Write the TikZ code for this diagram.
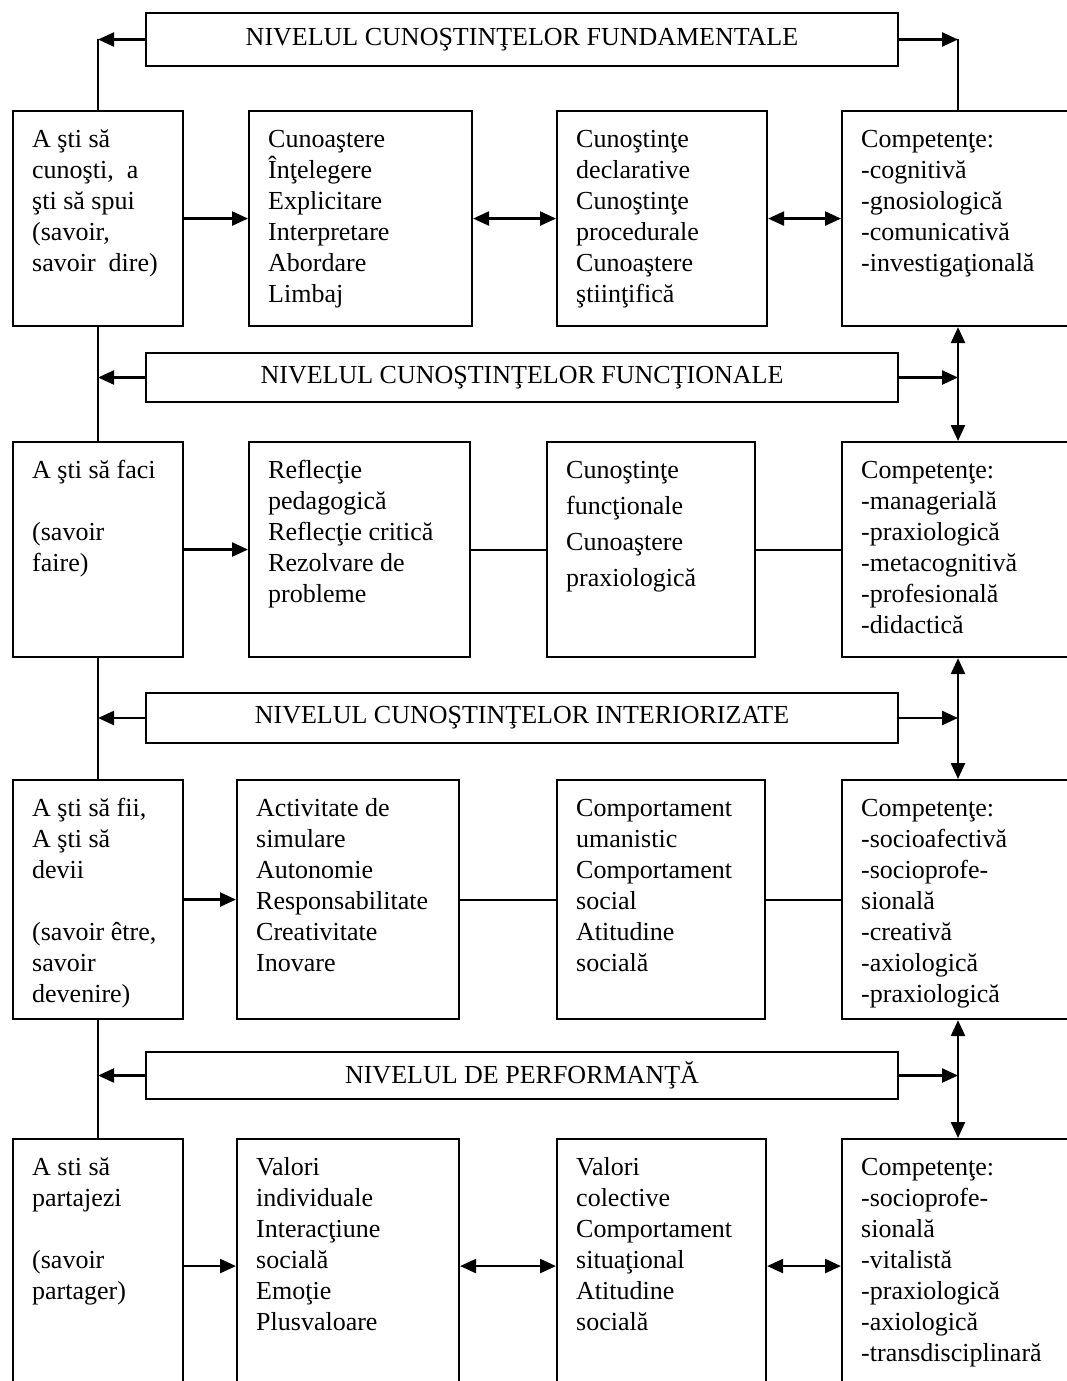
\documentclass[tikz,border=0pt]{standalone}
\usepackage{fontspec}
\setmainfont{Liberation Serif}
\usetikzlibrary{arrows.meta}
\begin{document}
\begin{tikzpicture}[x=1pt,y=-1pt,
  box/.style={draw, line width=2.1pt, inner sep=0pt, anchor=north west},
  banner/.style={draw, line width=2.1pt, minimum width=752pt, inner sep=0pt,
    font=\fontsize{26pt}{31pt}\selectfont},
  txt/.style={anchor=north west, inner sep=0pt, align=left,
    font=\fontsize{26pt}{31pt}\selectfont, xshift=20pt, yshift=-12pt},
  tip/.tip={Triangle[length=16pt,width=14pt]},
  arr/.style={line width=2.4pt, -tip},
  darr/.style={line width=2.4pt, tip-tip},
  conn/.style={line width=2.1pt},
  vline/.style={line width=1.6pt}]
\fill[white] (0,0) rectangle (1067,1381);
\useasboundingbox (0,0) rectangle (1067,1381);
\def\st{\rule{0pt}{25pt}}

% banners
\node[banner, minimum height=53pt] (N1) at (522,39.5) {NIVELUL CUNOŞTINŢELOR FUNDAMENTALE};
\node[banner, minimum height=49pt] (N2) at (522,377.5) {NIVELUL CUNOŞTINŢELOR FUNCŢIONALE};
\node[banner, minimum height=50pt] (N3) at (522,718) {NIVELUL CUNOŞTINŢELOR INTERIORIZATE};
\node[banner, minimum height=47pt] (N4) at (522,1075.5) {NIVELUL DE PERFORMANŢĂ};

% row 1
\node[box, minimum width=170pt, minimum height=215pt] (A1) at (12,110) {};
\node[box, minimum width=223pt, minimum height=215pt] (B1) at (248,110) {};
\node[box, minimum width=210pt, minimum height=215pt] (C1) at (556,110) {};
\node[box, minimum width=240pt, minimum height=215pt] (D1) at (841,110) {};
% row 2
\node[box, minimum width=170pt, minimum height=215pt] (A2) at (12,441) {};
\node[box, minimum width=221pt, minimum height=215pt] (B2) at (248,441) {};
\node[box, minimum width=208pt, minimum height=215pt] (C2) at (546,441) {};
\node[box, minimum width=240pt, minimum height=215pt] (D2) at (841,441) {};
% row 3
\node[box, minimum width=170pt, minimum height=239pt] (A3) at (12,779) {};
\node[box, minimum width=222pt, minimum height=239pt] (B3) at (236,779) {};
\node[box, minimum width=208pt, minimum height=239pt] (C3) at (556,779) {};
\node[box, minimum width=240pt, minimum height=239pt] (D3) at (841,779) {};
% row 4
\node[box, minimum width=170pt, minimum height=254pt] (A4) at (12,1138) {};
\node[box, minimum width=222pt, minimum height=254pt] (B4) at (236,1138) {};
\node[box, minimum width=209pt, minimum height=254pt] (C4) at (556,1138) {};
\node[box, minimum width=240pt, minimum height=254pt] (D4) at (841,1138) {};

% texts row 1
\node[txt] (tA1) at (A1.north west) {\st A şti să\\cunoşti,\ \ a\\şti să spui\\(savoir,\\savoir\ \ dire)};
\node[txt] (tB1) at (B1.north west) {\st Cunoaştere\\Înţelegere\\Explicitare\\Interpretare\\Abordare\\Limbaj};
\node[txt] (tC1) at (C1.north west) {\st Cunoştinţe\\declarative\\Cunoştinţe\\procedurale\\Cunoaştere\\ştiinţifică};
\node[txt] (tD1) at (D1.north west) {\st Competenţe:\\-cognitivă\\-gnosiologică\\-comunicativă\\-investigaţională};
% texts row 2
\node[txt] (tA2) at (A2.north west) {\st A şti să faci\\[31pt](savoir\\faire)};
\node[txt] (tB2) at (B2.north west) {\st Reflecţie\\pedagogică\\Reflecţie critică\\Rezolvare de\\probleme};
\node[txt, font=\fontsize{26pt}{36pt}\selectfont] (tC2) at (C2.north west) {\st Cunoştinţe\\funcţionale\\Cunoaştere\\praxiologică};
\node[txt] (tD2) at (D2.north west) {\st Competenţe:\\-managerială\\-praxiologică\\-metacognitivă\\-profesională\\-didactică};
% texts row 3
\node[txt] (tA3) at (A3.north west) {\st A şti să fii,\\A şti să\\devii\\[31pt](savoir être,\\savoir\\devenire)};
\node[txt] (tB3) at (B3.north west) {\st Activitate de\\simulare\\Autonomie\\Responsabilitate\\Creativitate\\Inovare};
\node[txt] (tC3) at (C3.north west) {\st Comportament\\umanistic\\Comportament\\social\\Atitudine\\socială};
\node[txt] (tD3) at (D3.north west) {\st Competenţe:\\-socioafectivă\\-socioprofe-\\sională\\-creativă\\-axiologică\\-praxiologică};
% texts row 4
\node[txt] (tA4) at (A4.north west) {\st A sti să\\partajezi\\[31pt](savoir\\partager)};
\node[txt] (tB4) at (B4.north west) {\st Valori\\individuale\\Interacţiune\\socială\\Emoţie\\Plusvaloare};
\node[txt] (tC4) at (C4.north west) {\st Valori\\colective\\Comportament\\situaţional\\Atitudine\\socială};
\node[txt] (tD4) at (D4.north west) {\st Competenţe:\\-socioprofe-\\sională\\-vitalistă\\-praxiologică\\-axiologică\\-transdisciplinară};

% right spine coordinate
\coordinate (R) at (958,0);

% horizontal connectors
\draw[arr]  (A1.east) -- (B1.west);
\draw[darr] (B1.east) -- (C1.west);
\draw[darr] (C1.east) -- (D1.west);
\draw[arr]  (A2.east) -- (B2.west);
\draw[conn] (B2.east) -- (C2.west);
\draw[conn] (C2.east) -- (D2.west);
\draw[arr]  (A3.east) -- (B3.west);
\draw[conn] (B3.east) -- (C3.west);
\draw[conn] (C3.east) -- (D3.west);
\draw[arr]  (A4.east) -- (B4.west);
\draw[darr] (B4.east) -- (C4.west);
\draw[darr] (C4.east) -- (D4.west);

% left spine
\draw[vline] (A1.north) -- (N1.west -| A1.north);
\draw[arr] (N1.west) -- (N1.west -| A1.north);
\draw[vline] (A1.south) -- (A2.north);
\draw[arr] (N2.west) -- (N2.west -| A2.north);
\draw[vline] (A2.south) -- (A3.north);
\draw[arr] (N3.west) -- (N3.west -| A3.north);
\draw[vline] (A3.south) -- (A4.north);
\draw[arr] (N4.west) -- (N4.west -| A4.north);

% right spine
\draw[vline] (R |- D1.north) -- (N1.east -| R);
\draw[arr] (N1.east) -- (N1.east -| R);
\draw[darr] (R |- D1.south) -- (R |- D2.north);
\draw[arr] (N2.east) -- (N2.east -| R);
\draw[darr] (R |- D2.south) -- (R |- D3.north);
\draw[arr] (N3.east) -- (N3.east -| R);
\draw[darr] (R |- D3.south) -- (R |- D4.north);
\draw[arr] (N4.east) -- (N4.east -| R);
\end{tikzpicture}
\end{document}
